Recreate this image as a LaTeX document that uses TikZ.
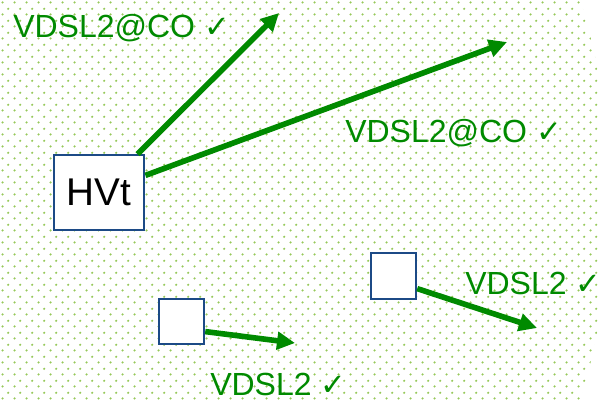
\documentclass[tikz,border=0pt]{standalone}
\usepackage{fontspec}
\setmainfont{Liberation Sans}
\newfontfamily\checkfont{DejaVu Sans}
\usetikzlibrary{
	arrows.meta,
	patterns,
	calc
}
\definecolor{LinkGreen}{RGB}{0,138,0}
\definecolor{DotGreen}{RGB}{150,200,90}
\definecolor{BoxBlue}{RGB}{28,74,134}

% 浅绿色点阵底纹
\pgfdeclarepatternformonly{greendots}{\pgfpointorigin}{\pgfpoint{8.7pt}{8.7pt}}{\pgfpoint{8.7pt}{8.7pt}}{
	\pgfpathcircle{\pgfpoint{2pt}{2pt}}{0.95pt}
	\pgfpathcircle{\pgfpoint{6.35pt}{6.35pt}}{0.95pt}
	\pgfusepath{fill}
}

\newcommand{\okmark}{{\checkfont\fontsize{23}{23}\selectfont ✓}}

\begin{document}
\begin{tikzpicture}[x=0.75pt, y=-0.75pt,
	box/.style={draw=BoxBlue, line width=1.6pt, fill=white, inner sep=0pt},
	link/.style={LinkGreen, line width=4.2pt, -{Triangle[length=13.5pt, width=13pt]}},
	tag/.style={text=LinkGreen, inner sep=0pt, font=\fontsize{24}{24}\selectfont}]
	\useasboundingbox (0,0) rectangle (600,401);
	
	% 点阵区域
	\begin{scope}
		\clip (0,0) rectangle (600,401);
		\fill[pattern=greendots, pattern color=DotGreen] (200,200) ellipse [x radius=410, y radius=533];
	\end{scope}
	
	% 节点
	\node[box, minimum width=68pt, minimum height=56pt, font=\fontsize{29}{29}\selectfont] (hvt) at (99,192.5) {HVt};
	\node[box, minimum width=34pt, minimum height=34pt] (sub1) at (393.5,276) {};
	\node[box, minimum width=34pt, minimum height=34pt] (sub2) at (181.5,321.5) {};
	
	% 箭头终点
	\coordinate (tip1) at (279,13);
	\coordinate (tip2) at (507,42);
	\coordinate (tip3) at (537,328);
	\coordinate (tip4) at (295,343);
	
	\draw[link] (hvt) -- (tip1);
	\draw[link] (hvt) -- (tip2);
	\draw[link] (sub1.-28) -- (tip3);
	\draw[link] (sub2.-23) -- (tip4);
	
	% 标注
	\node[tag, anchor=base west] (co1) at (13,37) {VDSL2@CO \okmark};
	\node[tag, anchor=base west] (co2) at (345,142) {VDSL2@CO \okmark};
	\node[tag, anchor=base west] (v1) at (465,294) {VDSL2 \okmark};
	\node[tag, anchor=base west] (v2) at (210,395) {VDSL2 \okmark};
\end{tikzpicture}
\end{document}
